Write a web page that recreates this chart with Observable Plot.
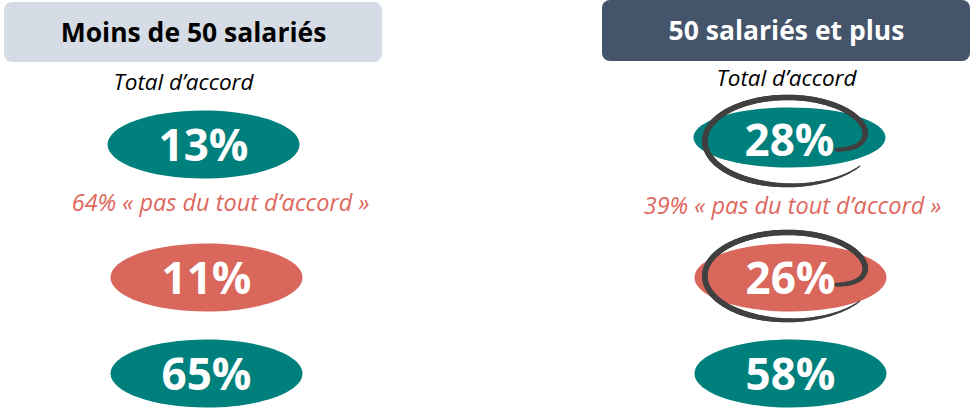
<!DOCTYPE html>
<html><head><meta charset="utf-8">
<script src="https://cdn.jsdelivr.net/npm/d3@7"></script>
<script src="https://cdn.jsdelivr.net/npm/@observablehq/plot@0.6"></script>
<style>body{margin:0;background:#fff;}</style>
</head><body><div id="chart"></div>
<script>
// ---- data ----
const groups = ["Moins de 50 salariés", "50 salariés et plus"];
const rows = ["Total d’accord", "Pas du tout d’accord", "Autre"];
const rowKinds = ["accord", "desaccord", "accord"];
const valuesMoins50 = [13, 11, 65];
const values50plus = [28, 26, 58];
const pasDuToutAccord = [64, 39];
const highlightMoins50 = [false, false, false];
const highlight50plus = [true, true, false];
const rowLabel = "Total d’accord";

// ---- layout / style ----
const W = 971, H = 413;
const colX = [203, 789];
const rowY = [144, 277, 373];
const headerBox = [[4, 382, 2, 62], [602, 970, 0, 61]];
const headerFill = ["#d6dce5", "#44546a"];
const headerText = ["#000000", "#ffffff"];
const kindFill = {accord: "#00807c", desaccord: "#d9675b"};
const font = "'Open Sans', sans-serif";
const labelX = [183, 786], labelY = [82, 78];
const noteX = [220, 792], noteY = [203, 206];
const scribbleDy = [-4, -2, 0];

const allValues = [valuesMoins50, values50plus];
const allHighlights = [highlightMoins50, highlight50plus];
const cells = [];
groups.forEach((g, gi) => rows.forEach((r, ri) => cells.push({
  group: g, gi, row: r, ri, kind: rowKinds[ri], value: allValues[gi][ri], hl: allHighlights[gi][ri]
})));
const headers = groups.map((g, gi) => ({group: g, gi}));

function ellipseSymbol(rx, ry) {
  const k = 0.5523;
  return {draw(ctx) {
    ctx.moveTo(rx, 0);
    ctx.bezierCurveTo(rx, ry * k, rx * k, ry, 0, ry);
    ctx.bezierCurveTo(-rx * k, ry, -rx, ry * k, -rx, 0);
    ctx.bezierCurveTo(-rx, -ry * k, -rx * k, -ry, 0, -ry);
    ctx.bezierCurveTo(rx * k, -ry, rx, -ry * k, rx, 0);
    ctx.closePath();
  }};
}

// hand-drawn scribble around highlighted cells (decoration)
const scribble = [];
cells.filter(d => d.hl).forEach(d => {
  const cx = colX[d.gi] - 1, cy = rowY[d.ri] + scribbleDy[d.ri], rx = 80, ry = 42;
  const t0 = -0.35, t1 = 2 * Math.PI - 0.6, n = 160;
  const pt = t => {
    const s = (1 - 0.36 * Math.exp(-(t - t0) / 0.22)) * (1 + 0.08 * (t - t0) / (t1 - t0));
    return [cx + rx * s * Math.cos(t), cy - ry * s * Math.sin(t)];
  };
  for (let i = 0; i < n; i++) {
    const ta = t0 + (t1 - t0) * i / n, tb = t0 + (t1 - t0) * (i + 1) / n;
    const [x1, y1] = pt(ta), [x2, y2] = pt(tb);
    const f = i / n;
    const w = 5.5 * Math.min(1, 0.75 + f * 3, (1 - f) / 0.25 * 0.8 + 0.2);
    scribble.push({x1, y1, x2, y2, w});
  }
});

const plot = Plot.plot({
  width: W, height: H,
  margin: 0,
  x: {type: "linear", domain: [0, W], range: [0, W], axis: null},
  y: {type: "linear", domain: [0, H], range: [0, H], axis: null},
  color: {type: "identity"},
  style: {background: "#fff"},
  marks: [
    Plot.rect(headers, {
      x1: d => headerBox[d.gi][0], x2: d => headerBox[d.gi][1],
      y1: d => headerBox[d.gi][2], y2: d => headerBox[d.gi][3],
      fill: d => headerFill[d.gi], rx: 8
    }),
    Plot.text(headers, {
      x: d => (headerBox[d.gi][0] + headerBox[d.gi][1]) / 2,
      y: d => (headerBox[d.gi][2] + headerBox[d.gi][3]) / 2 + 1,
      text: "group", fill: d => headerText[d.gi],
      fontSize: 26.5, fontWeight: "bold", fontFamily: font
    }),
    Plot.text(headers, {
      x: d => labelX[d.gi], y: d => labelY[d.gi],
      text: () => rowLabel, fill: "#000",
      fontSize: 22.5, fontStyle: "italic", fontFamily: font
    }),
    Plot.text(headers, {
      x: d => noteX[d.gi], y: d => noteY[d.gi],
      text: d => `${pasDuToutAccord[d.gi]}% « pas du tout d’accord »`,
      fill: "#e0675d", fontSize: 23.5, fontStyle: "italic", fontFamily: font
    }),
    Plot.dot(cells.filter(d => !(d.gi === 1 && d.ri === 0)), {
      x: d => colX[d.gi] + (d.ri > 0 ? 3 - d.gi * 2 : 0), y: d => rowY[d.ri],
      symbol: ellipseSymbol(96, 34), fill: d => kindFill[d.kind], stroke: null
    }),
    Plot.dot(cells.filter(d => d.gi === 1 && d.ri === 0), {
      x: d => colX[d.gi], y: d => rowY[d.ri] - 7,
      symbol: ellipseSymbol(96, 30), fill: d => kindFill[d.kind], stroke: null
    }),
    Plot.text(cells, {
      x: d => colX[d.gi] + (d.ri > 0 ? 3 - d.gi * 2 : 0), y: d => rowY[d.ri] + (d.gi === 1 && d.ri === 0 ? -3 : 2),
      text: d => `${d.value}%`, fill: "#fff",
      fontSize: 44, fontWeight: "bold", fontFamily: font
    }),
    Plot.link(scribble, {
      x1: "x1", y1: "y1", x2: "x2", y2: "y2", strokeWidth: "w",
      stroke: "#404040", strokeLinecap: "round"
    })
  ]
});
document.getElementById("chart").appendChild(plot);
</script>
</body></html>
